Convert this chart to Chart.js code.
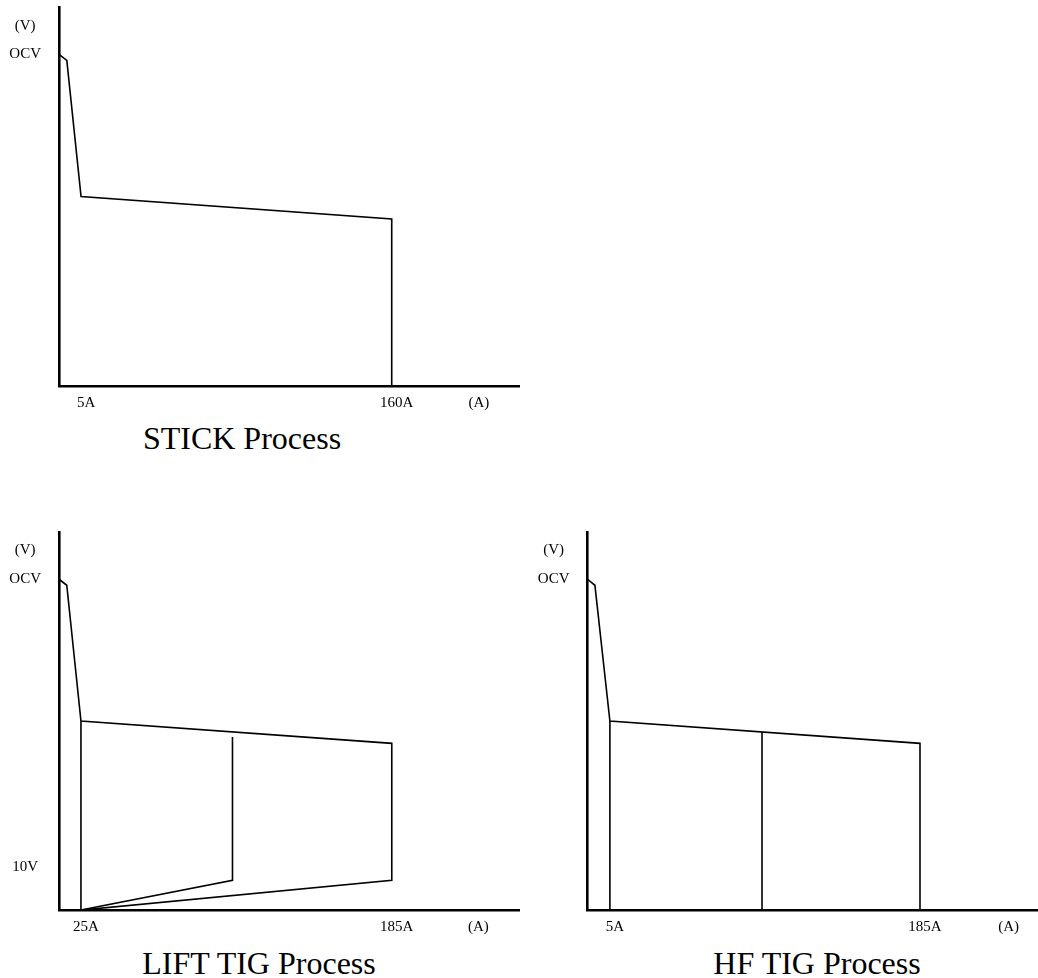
<!DOCTYPE html>
<html>
<head>
<meta charset="utf-8">
<script src="https://cdn.jsdelivr.net/npm/chart.js@4.4.0/dist/chart.umd.min.js"></script>
<style>
  html, body { margin: 0; padding: 0; background: #fff; }
  #page { position: relative; width: 1038px; height: 978px; overflow: hidden; }
  canvas { position: absolute; }
  .caption { position: absolute; width: 400px; text-align: center; color: #000;
             font-family: "Liberation Serif", "Times New Roman", serif; font-size: 32px; line-height: 32px; }
</style>
</head>
<body>
<div id="page">
  <canvas id="stick" width="520" height="420" style="left:0;top:0"></canvas>
  <canvas id="lift" width="520" height="420" style="left:0;top:520px"></canvas>
  <canvas id="hf" width="518" height="420" style="left:520px;top:520px"></canvas>
  <div class="caption" style="left:42px;top:422px">STICK Process</div>
  <div class="caption" style="left:59px;top:947px">LIFT TIG Process</div>
  <div class="caption" style="left:617px;top:947px">HF TIG Process</div>
</div>
<script>
// volt-amp curves (x in A, y in V, schematic)

// STICK
const stickAmps  = [-6, -2.1, 5, 160, 160];
const stickVolts = [77, 75.6, 44, 38.8, 0];
const stickTickAmps   = [5, 160, 201];
const stickTickLabels = ["5A", "160A", "(A)"];
const stickTickVolts  = [83.5, 77];
const stickVoltLabels = ["(V)", "OCV"];

// LIFT TIG
const liftOuterAmps  = [13.7, 17.7, 25, 185, 185, 25, 25];
const liftOuterVolts = [77, 75.6, 44, 38.8, 6.9, 0, 44];
const liftMidAmps  = [103, 103, 25];
const liftMidVolts = [40.3, 6.9, 0];
const liftTickAmps   = [25, 185, 227];
const liftTickLabels = ["25A", "185A", "(A)"];
const liftTickVolts  = [83.7, 77, 10];
const liftVoltLabels = ["(V)", "OCV", "10V"];

// HF TIG
const hfOuterAmps  = [-8, -3.7, 5, 185, 185];
const hfOuterVolts = [77, 75.6, 44, 38.8, 0];
const hfLeftAmps  = [5, 5];
const hfLeftVolts = [44, 0];
const hfMidAmps  = [93.3, 93.3];
const hfMidVolts = [41.4, 0];
const hfTickAmps   = [5, 185, 233.5];
const hfTickLabels = ["5A", "185A", "(A)"];
const hfTickVolts  = [83.7, 77];
const hfVoltLabels = ["(V)", "OCV"];

const tickFont = { family: "'Liberation Serif', 'Times New Roman', serif", size: 15 };

function toPoints(amps, volts) {
  return amps.map((a, i) => ({ x: a, y: volts[i] }));
}

function makePanel(id, p) {
  return new Chart(document.getElementById(id), {
    type: "line",
    data: {
      datasets: p.lines.map(l => ({
        data: toPoints(l[0], l[1]),
        borderColor: "#000",
        borderWidth: 1.6,
        borderJoinStyle: "miter",
        pointRadius: 0,
        tension: 0,
        fill: false,
        clip: false
      }))
    },
    options: {
      responsive: false,
      animation: false,
      events: [],
      layout: { padding: { top: p.padTop, left: 0, right: 0, bottom: 0 } },
      plugins: { legend: { display: false }, tooltip: { enabled: false } },
      scales: {
        x: {
          type: "linear", min: p.xMin, max: p.xMax,
          grid: { display: false, drawTicks: false },
          border: { display: true, color: "#000", width: 2.6 },
          afterBuildTicks: s => { s.ticks = p.xTicks.map(v => ({ value: v })); },
          afterFit: s => { s.height = p.xHeight; s.paddingLeft = 0; s.paddingRight = 0; },
          ticks: {
            autoSkip: false, maxRotation: 0, minRotation: 0,
            padding: 8, labelOffset: 5, color: "#000", font: tickFont,
            callback: (v, i) => p.xLabels[i]
          }
        },
        y: {
          type: "linear", min: 0, max: 88,
          grid: { display: false, drawTicks: false },
          border: { display: true, color: "#000", width: 2.6 },
          afterBuildTicks: s => { s.ticks = p.yTicks.map(v => ({ value: v })); },
          // tick padding is only meant to push labels left, not to shrink the plot
          afterFit: s => { s.width = p.yWidth; s.paddingTop = 0; s.paddingBottom = 0; },
          ticks: {
            autoSkip: false, crossAlign: "center",
            padding: 18, color: "#000", font: tickFont,
            callback: (v, i) => p.yLabels[i]
          }
        }
      }
    }
  });
}

makePanel("stick", {
  lines: [[stickAmps, stickVolts]],
  xMin: -6, xMax: 224, xTicks: stickTickAmps, xLabels: stickTickLabels,
  yTicks: stickTickVolts, yLabels: stickVoltLabels,
  padTop: 7, yWidth: 59, xHeight: 34
});

makePanel("lift", {
  lines: [[liftOuterAmps, liftOuterVolts], [liftMidAmps, liftMidVolts]],
  xMin: 13.7, xMax: 251, xTicks: liftTickAmps, xLabels: liftTickLabels,
  yTicks: liftTickVolts, yLabels: liftVoltLabels,
  padTop: 12, yWidth: 59, xHeight: 30
});

makePanel("hf", {
  lines: [[hfOuterAmps, hfOuterVolts], [hfLeftAmps, hfLeftVolts], [hfMidAmps, hfMidVolts]],
  xMin: -8, xMax: 253.5, xTicks: hfTickAmps, xLabels: hfTickLabels,
  yTicks: hfTickVolts, yLabels: hfVoltLabels,
  padTop: 12, yWidth: 67.5, xHeight: 30
});
</script>
</body>
</html>
